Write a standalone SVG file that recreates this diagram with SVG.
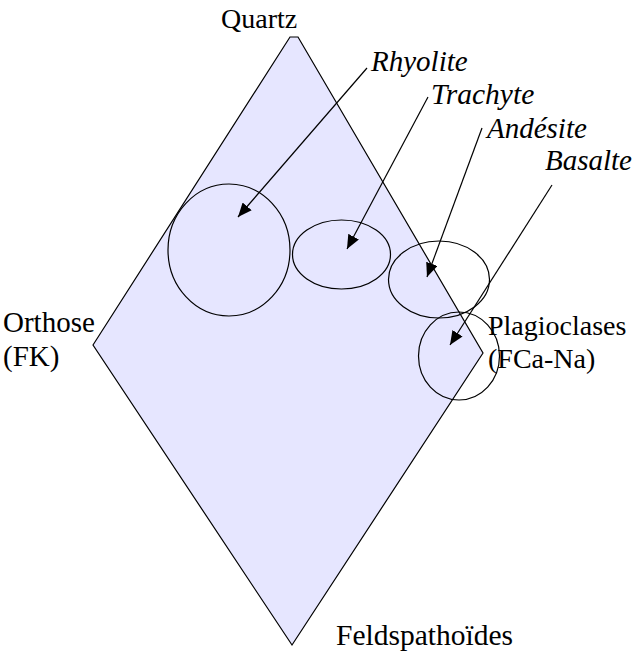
<svg xmlns="http://www.w3.org/2000/svg" width="638" height="655" viewBox="0 0 638 655">
<defs>
<marker id="arr" markerUnits="userSpaceOnUse" markerWidth="16" markerHeight="12" refX="14" refY="6" orient="auto">
<path d="M0,0 L14,6 L0,12 Z" fill="#000"/>
</marker>
</defs>
<rect width="638" height="655" fill="#fff"/>
<g id="diagram">
<polygon points="93,345 290,37 298,37 483,353 292,645" fill="#e6e6ff" stroke="#000" stroke-width="1.2"/>
</g>
<g id="quartz"><text x="221" y="28" font-family="Liberation Serif, serif" font-size="28">Quartz</text></g>
<g id="orthose"><text x="3" y="332" font-family="Liberation Serif, serif" font-size="29">Orthose</text><text x="3" y="366" font-family="Liberation Serif, serif" font-size="29">(FK)</text></g>
<g id="plagioclases"><text x="488" y="335" font-family="Liberation Serif, serif" font-size="28">Plagioclases</text><text x="488" y="368" font-family="Liberation Serif, serif" font-size="28">(FCa-Na)</text></g>
<g id="feldspathoides"><text x="336" y="645" font-family="Liberation Serif, serif" font-size="29.5">Feldspatho&#239;des</text></g>
<g id="rhyolite"><ellipse cx="229" cy="250" rx="61" ry="66" fill="none" stroke="#000" stroke-width="1.2"/><text x="371" y="71" font-family="Liberation Serif, serif" font-size="29" font-style="italic">Rhyolite</text></g>
<g id="trachyte"><ellipse cx="341.5" cy="254.5" rx="49" ry="34.5" fill="none" stroke="#000" stroke-width="1.2"/><text x="431" y="104" font-family="Liberation Serif, serif" font-size="29.5" font-style="italic">Trachyte</text></g>
<g id="andesite"><ellipse cx="439" cy="279.5" rx="50.5" ry="38.5" fill="none" stroke="#000" stroke-width="1.2"/><text x="487" y="138" font-family="Liberation Serif, serif" font-size="29" font-style="italic">And&#233;site</text></g>
<g id="basalte"><ellipse cx="459" cy="356" rx="40.5" ry="44" fill="none" stroke="#000" stroke-width="1.2"/><text x="545" y="170" font-family="Liberation Serif, serif" font-size="29" font-style="italic">Basalte</text></g>
<g id="connectors" stroke="#000" stroke-width="1.2" marker-end="url(#arr)">
<line x1="367" y1="68" x2="238" y2="217"/>
<line x1="428" y1="97" x2="347" y2="249"/>
<line x1="482" y1="128" x2="427" y2="277"/>
<line x1="552" y1="185" x2="450" y2="345"/>
</g>
</svg>
